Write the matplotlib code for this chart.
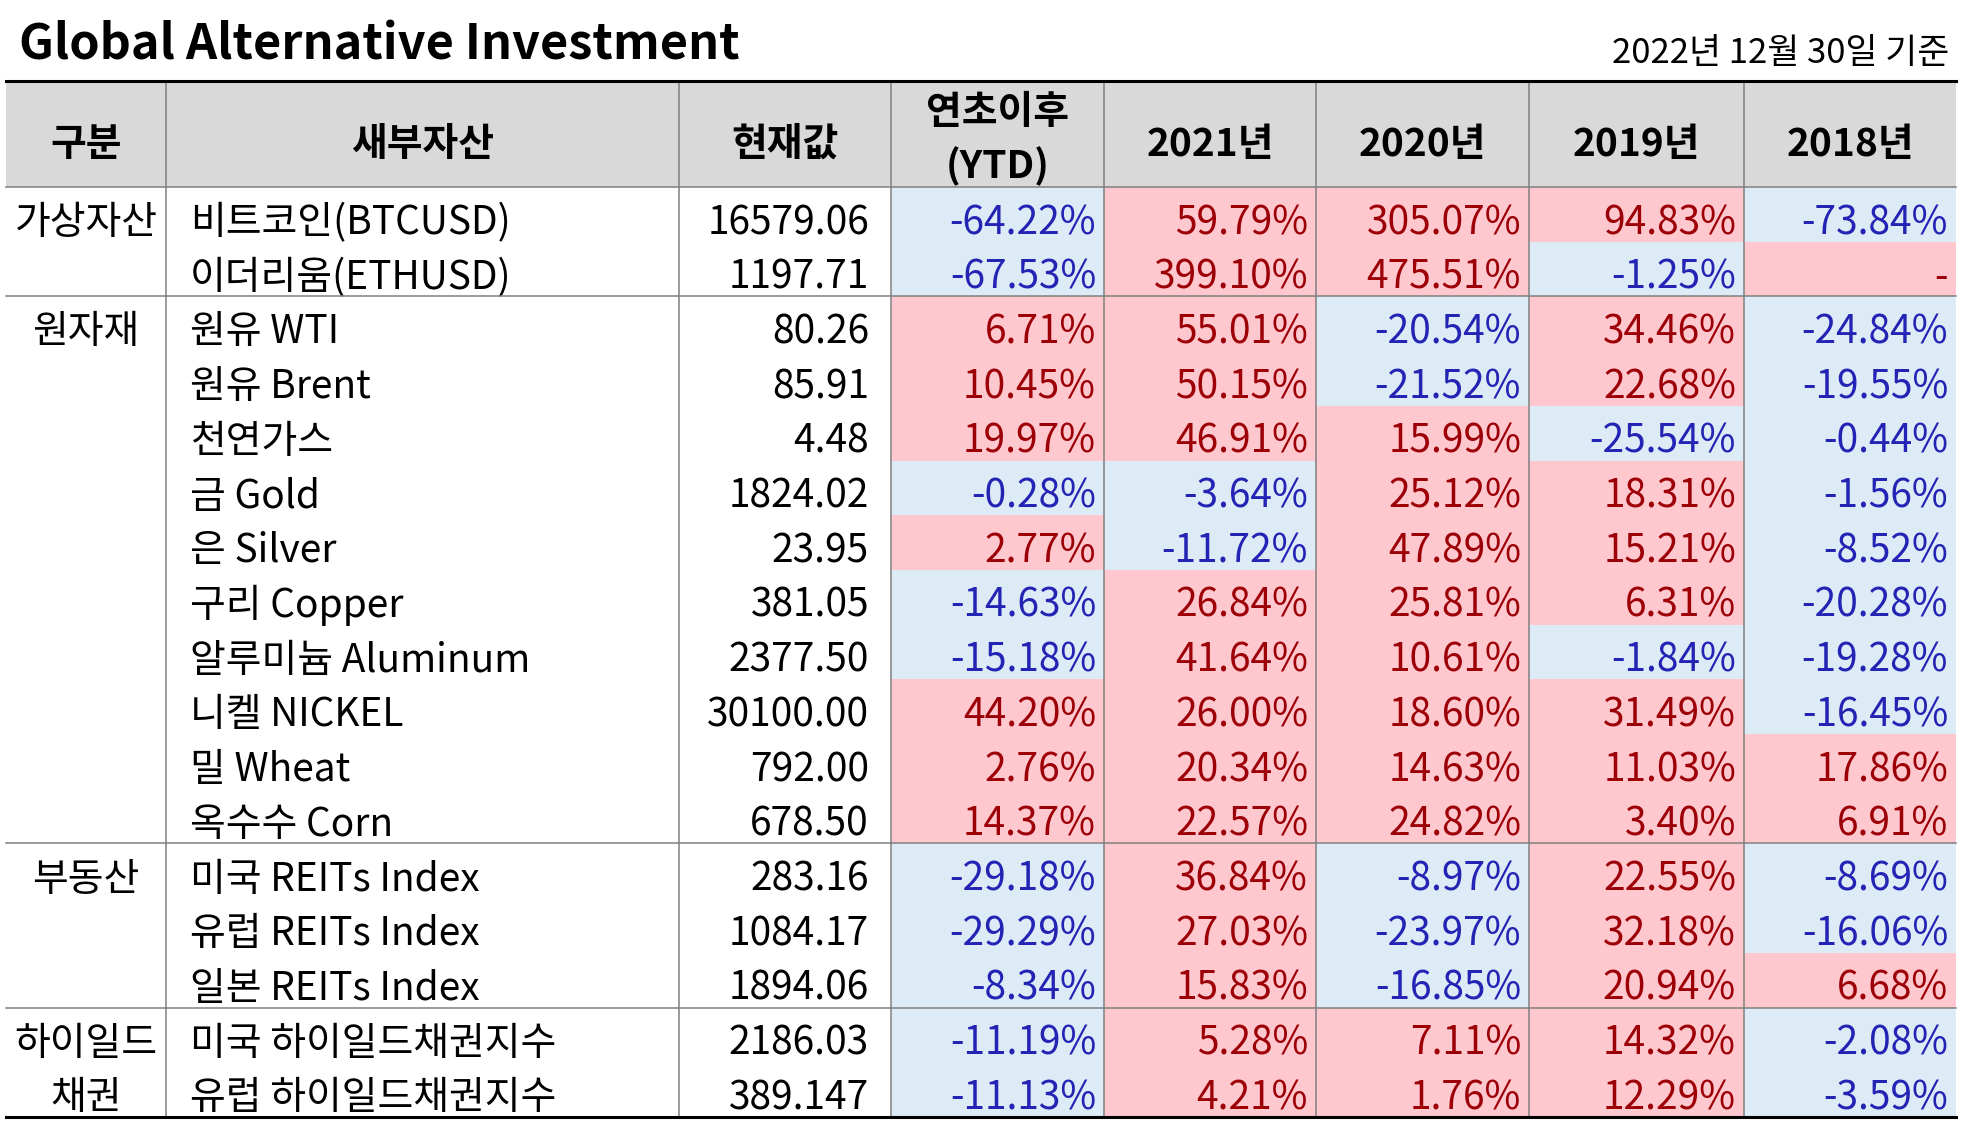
import matplotlib
matplotlib.use("Agg")
import matplotlib.pyplot as plt
from matplotlib.patches import Rectangle

plt.rcParams['font.family'] = ['Noto Sans CJK KR', 'DejaVu Sans']

title = "Global Alternative Investment"
date_note = "2022년 12월 30일 기준"

headers = ["구분", "새부자산", "현재값", "연초이후\n(YTD)", "2021년", "2020년", "2019년", "2018년"]

groups = ["가상자산", "원자재", "부동산", "하이일드\n채권"]
group_sizes = [2, 10, 3, 2]

assets = ["비트코인(BTCUSD)", "이더리움(ETHUSD)",
          "원유 WTI", "원유 Brent", "천연가스", "금 Gold", "은 Silver",
          "구리 Copper", "알루미늄 Aluminum", "니켈 NICKEL", "밀 Wheat", "옥수수 Corn",
          "미국 REITs Index", "유럽 REITs Index", "일본 REITs Index",
          "미국 하이일드채권지수", "유럽 하이일드채권지수"]

current_values = ["16579.06", "1197.71", "80.26", "85.91", "4.48", "1824.02", "23.95",
                  "381.05", "2377.50", "30100.00", "792.00", "678.50",
                  "283.16", "1084.17", "1894.06", "2186.03", "389.147"]

ytd = [-64.22, -67.53, 6.71, 10.45, 19.97, -0.28, 2.77, -14.63, -15.18, 44.20, 2.76, 14.37,
       -29.18, -29.29, -8.34, -11.19, -11.13]
y2021 = [59.79, 399.10, 55.01, 50.15, 46.91, -3.64, -11.72, 26.84, 41.64, 26.00, 20.34, 22.57,
         36.84, 27.03, 15.83, 5.28, 4.21]
y2020 = [305.07, 475.51, -20.54, -21.52, 15.99, 25.12, 47.89, 25.81, 10.61, 18.60, 14.63, 24.82,
         -8.97, -23.97, -16.85, 7.11, 1.76]
y2019 = [94.83, -1.25, 34.46, 22.68, -25.54, 18.31, 15.21, 6.31, -1.84, 31.49, 11.03, 3.40,
         22.55, 32.18, 20.94, 14.32, 12.29]
y2018 = [-73.84, None, -24.84, -19.55, -0.44, -1.56, -8.52, -20.28, -19.28, -16.45, 17.86, 6.91,
         -8.69, -16.06, 6.68, -2.08, -3.59]

returns = [ytd, y2021, y2020, y2019, y2018]

# ---- layout (pixel coordinates) ----
W, H = 1961, 1131
fig = plt.figure(figsize=(W / 100, H / 100), dpi=100)
ax = fig.add_axes([0, 0, 1, 1])
ax.set_xlim(0, W)
ax.set_ylim(H, 0)
ax.axis('off')

col_edges = [6, 166, 679, 891, 1104, 1316, 1529, 1744, 1956]
top_line = 81
head_top = 82
head_bot = 187
table_bot = 1117
n_rows = len(assets)
row_h = (table_bot - head_bot) / n_rows
BASE = 0.86

FS = 28
POS_FILL, POS_TXT = '#FFC7CE', '#9C0006'
NEG_FILL, NEG_TXT = '#DDEBF7', '#2323B4'
GRID = '#808080'

# title + date
ax.text(19, 60, title, fontsize=35, fontweight='bold', ha='left', va='baseline', color='black')
ax.text(1949, 63, date_note, fontsize=25, ha='right', va='baseline', color='black')

# header background
ax.add_patch(Rectangle((col_edges[0], head_top), col_edges[-1] - col_edges[0], head_bot - head_top,
                       facecolor='#D9D9D9', edgecolor='none', zorder=1))
for i, h in enumerate(headers):
    cx = (col_edges[i] + col_edges[i + 1]) / 2
    off = 5 if "\n" in h else 10
    ax.text(cx, (head_top + head_bot) / 2 + off, h, fontsize=FS, fontweight='bold',
            ha='center', va='center', linespacing=1.45, zorder=3)

# data cells
for r in range(n_rows):
    y0 = head_bot + r * row_h
    yb = y0 + BASE * row_h
    ax.text(190, yb, assets[r], fontsize=FS, ha='left', va='baseline', zorder=3)
    ax.text(col_edges[3] - 22, yb, current_values[r], fontsize=FS, ha='right', va='baseline', zorder=3)
    for c, series in enumerate(returns):
        x0, x1 = col_edges[3 + c], col_edges[4 + c]
        v = series[r]
        pos = (v is None) or (v >= 0)
        ax.add_patch(Rectangle((x0, y0), x1 - x0, row_h + 0.5,
                               facecolor=POS_FILL if pos else NEG_FILL, edgecolor='none', zorder=1))
        label = "-" if v is None else f"{v:.2f}%"
        ax.text(x1 - 8, yb, label, fontsize=FS, ha='right', va='baseline',
                color=POS_TXT if pos else NEG_TXT, zorder=3)

# group labels
start = 0
for g, n in zip(groups, group_sizes):
    cx = (col_edges[0] + col_edges[1]) / 2
    for k, part in enumerate(g.split("\n")):
        y0 = head_bot + (start + k) * row_h
        ax.text(cx, y0 + BASE * row_h, part, fontsize=FS, ha='center', va='baseline', zorder=3)
    start += n
    if start < n_rows:
        yy = head_bot + start * row_h
        ax.plot([col_edges[0], col_edges[-1]], [yy, yy], color=GRID, lw=1.1, zorder=4)

# grid lines
ax.plot([col_edges[0], col_edges[-1]], [head_bot, head_bot], color=GRID, lw=1.1, zorder=4)
for x in col_edges[1:-1]:
    ax.plot([x, x], [head_top, table_bot], color=GRID, lw=1.1, zorder=4)
ax.plot([col_edges[0], col_edges[-1]], [top_line, top_line], color='black', lw=2.2, zorder=5)
ax.plot([col_edges[0], col_edges[-1]], [table_bot, table_bot], color='black', lw=2.2, zorder=5)

fig.savefig("out.png", dpi=100)
